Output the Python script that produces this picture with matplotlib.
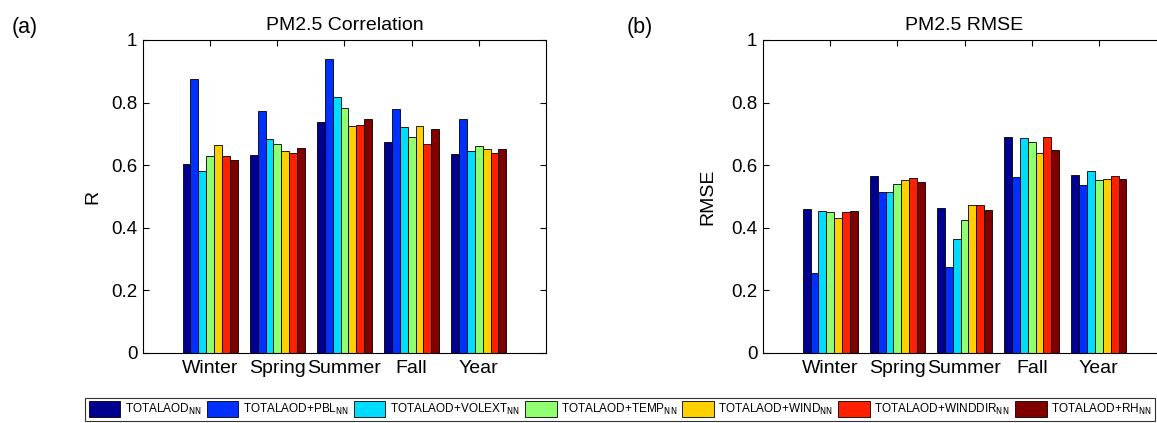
import numpy as np
import matplotlib
matplotlib.use('Agg')
import matplotlib.pyplot as plt
from matplotlib.patches import Patch

plt.rcParams['font.family'] = ['Liberation Sans', 'DejaVu Sans']
plt.rcParams['mathtext.fontset'] = 'custom'
plt.rcParams['mathtext.rm'] = 'Liberation Sans Narrow'

# Data
seasons = ['Winter', 'Spring', 'Summer', 'Fall', 'Year']
models  = ['TOTALAOD', 'TOTALAOD+PBL', 'TOTALAOD+VOLEXT', 'TOTALAOD+TEMP',
           'TOTALAOD+WIND', 'TOTALAOD+WINDDIR', 'TOTALAOD+RH']
colors  = ['#000090', '#0030ff', '#00dcff', '#90ff70', '#ffd000', '#ff2000', '#800000']

corr_winter = [0.604, 0.876, 0.580, 0.630, 0.665, 0.630, 0.617]
corr_spring = [0.633, 0.772, 0.683, 0.668, 0.645, 0.638, 0.656]
corr_summer = [0.737, 0.938, 0.817, 0.784, 0.724, 0.728, 0.748]
corr_fall   = [0.674, 0.781, 0.721, 0.689, 0.724, 0.668, 0.716]
corr_year   = [0.636, 0.746, 0.645, 0.660, 0.651, 0.638, 0.651]

rmse_winter = [0.461, 0.256, 0.455, 0.449, 0.431, 0.449, 0.454]
rmse_spring = [0.565, 0.514, 0.514, 0.541, 0.552, 0.559, 0.547]
rmse_summer = [0.463, 0.274, 0.364, 0.426, 0.472, 0.472, 0.457]
rmse_fall   = [0.689, 0.562, 0.686, 0.673, 0.640, 0.691, 0.648]
rmse_year   = [0.568, 0.537, 0.580, 0.554, 0.557, 0.565, 0.557]

corr = np.array([corr_winter, corr_spring, corr_summer, corr_fall, corr_year])
rmse = np.array([rmse_winter, rmse_spring, rmse_summer, rmse_fall, rmse_year])

fig = plt.figure(figsize=(11.57, 4.23), dpi=100)
ax1 = fig.add_axes([0.1236, 0.1655, 0.3483, 0.740])
ax2 = fig.add_axes([0.6595, 0.1655, 0.3483, 0.740])

def bar_panel(ax, vals, title, ylab, lpad):
	x  = np.arange(1, len(seasons)+1)
	nb = len(models)
	w  = 0.82/nb
	for j in range(nb):
		ax.bar(x - 0.41 + w*(j+0.5), vals[:, j], w, color=colors[j],
			   edgecolor='k', linewidth=0.6, zorder=2)
	ax.set_xlim(0, 6)
	ax.set_ylim(0, 1)
	ax.set_xticks(x)
	ax.set_xticklabels(seasons, fontsize=14)
	ax.set_yticks([0, 0.2, 0.4, 0.6, 0.8, 1])
	ax.set_yticklabels(['0', '0.2', '0.4', '0.6', '0.8', '1'], fontsize=13.5)
	ax.tick_params(direction='in', top=True, right=True, length=4, width=0.8, pad=4)
	ax.tick_params(axis='x', pad=5)
	for s in ax.spines.values(): s.set_linewidth(0.8)
	ax.set_title(title, fontsize=14, pad=7)
	ax.set_ylabel(ylab, fontsize=14, labelpad=lpad)

bar_panel(ax1, corr, 'PM2.5 Correlation', 'R', 7)
bar_panel(ax2, rmse, 'PM2.5 RMSE', 'RMSE', 11)
ax2.spines['right'].set_visible(False)
ax2.tick_params(right=False)

fig.text(0.010, 0.935, '(a)', fontsize=15.5, va='center')
fig.text(0.542, 0.935, '(b)', fontsize=15.5, va='center')

handles = [Patch(facecolor=c, edgecolor='k', linewidth=0.6) for c in colors]
labels  = [m + r'$_{\mathrm{NN}}$' for m in models]
leg = fig.legend(handles, labels, ncol=7, loc='center', mode='expand',
				 bbox_to_anchor=(85/1157, 0.002, 1070/1157, 0.062),
				 prop={'family': ['Liberation Sans Narrow', 'Liberation Sans'], 'size': 8.5},
				 frameon=True, fancybox=False, edgecolor='k',
				 handlelength=2.7, handleheight=1.7, handletextpad=0.35, columnspacing=0.5,
				 borderpad=0.3, borderaxespad=0)
leg.get_frame().set_linewidth(0.8)

fig.savefig('out.png', dpi=100)
